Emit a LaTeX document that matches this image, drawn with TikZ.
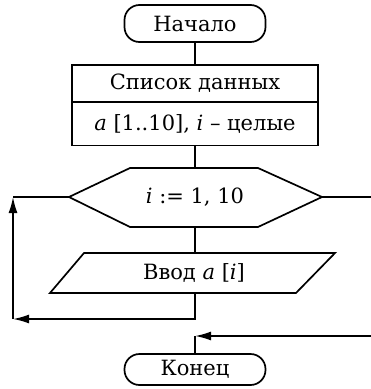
\documentclass[tikz,border=0pt]{standalone}
\usepackage{fontspec}
\setmainfont{DejaVu Serif}
\usetikzlibrary{arrows.meta}
\tikzset{
  line/.style={line width=1.7pt},
  arr/.style={line width=1.7pt,-{Latex[length=16pt,width=9pt]}},
  fnt/.style={font=\fontsize{21}{24}\selectfont},
  term/.style={draw,line width=1.7pt,rounded corners=15pt,minimum width=141pt,inner sep=0pt,fnt},
  boxpart/.style={minimum width=246pt,inner sep=0pt,fnt},
  txt/.style={fnt,inner sep=0pt}
}
\begin{document}
\begin{tikzpicture}[x=1pt,y=-1pt]
\useasboundingbox (0,0) rectangle (371,389);
% terminals
\node[term,minimum height=37pt] (start) at (195,23.5) {Начало};
\node[term,minimum height=31pt] (end) at (195,369.5) {Конец};
% data box
\node[boxpart,minimum height=37pt] (box1) at (195,83.5) {Список данных};
\node[boxpart,minimum height=43pt,anchor=north] (box2) at (box1.south) {\textit{a} [1..10], \textit{i} – целые};
\draw[line] (box1.north west) rectangle (box2.south east);
\draw[line] (box1.south west) -- (box1.south east);
% hexagon
\coordinate (hL) at (69,197);
\coordinate (hTL) at (130,168);
\coordinate (hTR) at (258,168);
\coordinate (hR) at (322,197);
\coordinate (hBR) at (258,227);
\coordinate (hBL) at (130,227);
\coordinate (hT) at (195,168);
\coordinate (hB) at (195,227);
\draw[line,line join=miter] (hL) -- (hTL) -- (hTR) -- (hR) -- (hBR) -- (hBL) -- cycle;
\node[txt] (loop) at (195,197) {\textit{i} := 1, 10};
% parallelogram
\coordinate (pTL) at (84,253);
\coordinate (pTR) at (335,253);
\coordinate (pBR) at (296,293);
\coordinate (pBL) at (50,293);
\coordinate (pT) at (195,253);
\coordinate (pB) at (195,293);
\draw[line,line join=miter] (pTL) -- (pTR) -- (pBR) -- (pBL) -- cycle;
\node[txt] (input) at (194,273) {Ввод \textit{a} [\textit{i}]};
% connectors
\draw[line] (start) -- (box1.north);
\draw[line] (box2.south) -- (hT);
\draw[line] (hB) -- (pT);
\coordinate (c1) at (195,319);
\coordinate (c2) at (13,319);
\coordinate (c3) at (13,197);
\draw[arr] (pB) -- (c1) -- (c2);
\draw[arr] (c2) -- (c3);
\draw[line] (c3) -- (hL);
\coordinate (r1) at (380,197);
\coordinate (r2) at (380,336);
\coordinate (r3) at (195,336);
\draw[arr] (hR) -- (r1) -- (r2) -- (r3);
\draw[line] (r3) -- (end);
\end{tikzpicture}
\end{document}
